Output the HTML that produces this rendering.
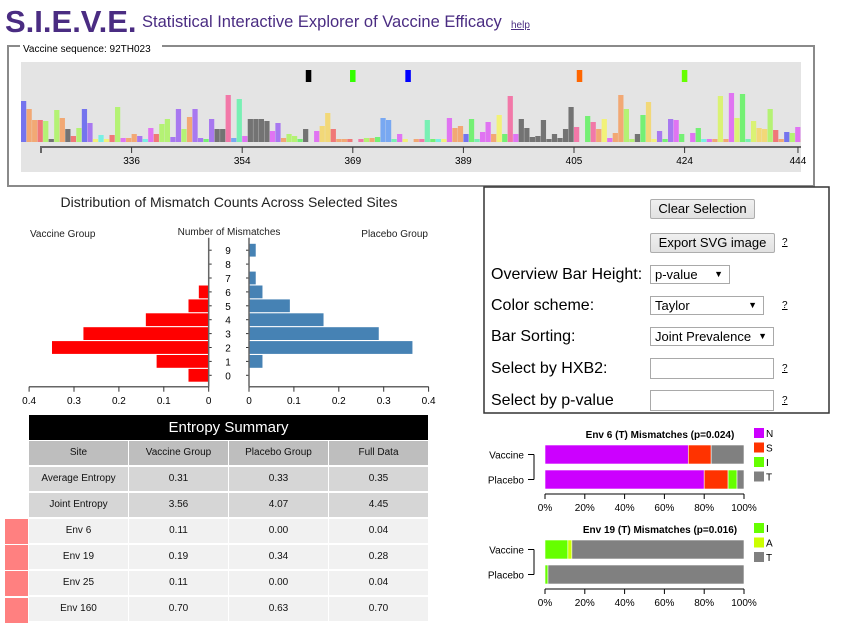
<!DOCTYPE html>
<html><head><meta charset="utf-8">
<style>
body{margin:0;width:860px;height:610px;overflow:hidden;background:#fff;font-family:"Liberation Sans",Arial,sans-serif;position:relative}
.abs{position:absolute}
.lbl{position:absolute;left:491px;font-size:16px;color:#000}
.btn{position:absolute;left:650px;height:20px;border:1px solid #adadad;background:linear-gradient(#f0f0f0,#e1e1e1);font-size:13px;line-height:18px;text-align:center;box-sizing:border-box;border-radius:2px}
.sel{position:absolute;left:650px;height:19px;border:1px solid #a9a9a9;background:#fff;font-size:13px;line-height:17px;padding-left:4px;box-sizing:border-box}
.sel span{position:absolute;right:6px;font-size:9px}
.inp{position:absolute;left:650px;width:124px;height:21px;border:1px solid #a9a9a9;background:#fff;box-sizing:border-box}
.q{position:absolute;left:782px;font-size:10px;text-decoration:underline}
.c{position:absolute;width:99px;height:24px;line-height:24px;font-size:10px;text-align:center;color:#111}
</style></head><body>
<div class="abs" style="left:5px;top:4px;font-size:31px;font-weight:bold;color:#4a2c82">S.I.E.V.E.</div>
<div class="abs" style="left:142px;top:13px;font-size:16.5px;color:#4a2c82">Statistical Interactive Explorer of Vaccine Efficacy</div>
<div class="abs" style="left:511px;top:20px;font-size:10px;color:#4a2c82;text-decoration:underline">help</div>

<svg class="abs" style="left:0;top:0" width="860" height="610">
<rect x="8" y="46" width="806" height="140" fill="none" stroke="#8a8a8a" stroke-width="2"/>
<rect x="20" y="44" width="142" height="8" fill="#fff"/>
<text x="23" y="52" font-size="10" fill="#000">Vaccine sequence: 92TH023</text>
<rect x="21" y="62" width="780" height="110" fill="#e4e4e4"/>
<g id="ov"></g>
<rect x="484" y="187" width="345" height="226" fill="none" stroke="#333" stroke-width="1.5"/>
<g id="hist"></g>
<g id="stk"></g>
</svg>

<div class="btn" style="top:199px;width:105px">Clear Selection</div>
<div class="btn" style="top:233px;width:125px">Export SVG image</div>
<div class="q" style="top:237px">?</div>
<div class="lbl" style="top:266px">Overview Bar Height:</div>
<div class="sel" style="top:265px;width:80px">p-value<span>▼</span></div>
<div class="lbl" style="top:297px">Color scheme:</div>
<div class="sel" style="top:296px;width:114px">Taylor<span>▼</span></div>
<div class="q" style="top:300px">?</div>
<div class="lbl" style="top:328px">Bar Sorting:</div>
<div class="sel" style="top:327px;width:124px">Joint Prevalence<span>▼</span></div>
<div class="lbl" style="top:360px">Select by HXB2:</div>
<div class="inp" style="top:358px"></div>
<div class="q" style="top:363px">?</div>
<div class="lbl" style="top:392px">Select by p-value</div>
<div class="inp" style="top:390px"></div>
<div class="q" style="top:395px">?</div>

<div>
<div class="abs" style="left:29px;top:415px;width:399px;height:25px;background:#000;color:#fff;font-size:15px;line-height:25px;text-align:center">Entropy Summary</div>
<div id="tbl"></div>
</div>
<div class="abs" style="left:5px;top:519px;width:23px;height:25px;background:#ff8080"></div>
<div class="abs" style="left:5px;top:545px;width:23px;height:25px;background:#ff8080"></div>
<div class="abs" style="left:5px;top:571px;width:23px;height:25px;background:#ff8080"></div>
<div class="abs" style="left:5px;top:598px;width:23px;height:25px;background:#ff8080"></div>

<script>
// ---------- table ----------
const tblRows=[["Site","Vaccine Group","Placebo Group","Full Data"],["Average Entropy","0.31","0.33","0.35"],["Joint Entropy","3.56","4.07","4.45"],["Env 6","0.11","0.00","0.04"],["Env 19","0.19","0.34","0.28"],["Env 25","0.11","0.00","0.04"],["Env 160","0.70","0.63","0.70"]];
const tblBg=["#bebebe","#d6d6d6","#d6d6d6","#f1f1f1","#f1f1f1","#f1f1f1","#f1f1f1"];
(function(){
  const t=document.getElementById('tbl');
  tblRows.forEach((row,r)=>{
    row.forEach((v,c)=>{
      const d=document.createElement('div');
      d.className='c';
      d.style.left=(29+c*100)+'px';
      d.style.top=(441+r*26)+'px';
      d.style.background=tblBg[r];
      d.textContent=v;
      
      
      t.appendChild(d);
    });
  });
})();

// ---------- overview data ----------
const ovHeights = [41,33,22,22,21,3,32,24,13,6,14,33,19,3,7,3,7,35,4,4,8,6,3,14,8,18,23,5,33,13,25,33,4,3,23,13,13,47,4,43,6,23,23,23,21,11,19,4,8,6,3,13,0,11,16,29,13,3,3,3,0,3,4,4,5,24,22,3,8,3,0,3,3,22,3,3,3,24,14,16,8,23,3,10,20,8,27,8,46,8,23,14,5,6,22,3,8,4,13,35,15,0,26,20,13,23,4,9,47,33,3,8,27,40,3,11,3,23,22,8,0,9,14,3,3,3,46,3,49,24,48,3,21,14,13,33,12,3,10,9,15,3];
const ovCodes = ["b","o","o","r","g","k","g","o","k","r","g","b","u","y","c","y","r","g","m","o","o","u","c","m","r","g","g","u","u","g","o","u","u","G","u","k","k","p","B","t","m","k","k","k","k","m","u","o","g","g","G","k","0","m","Y","Y","r","o","o","r","0","p","g","o","G","B","B","t","m","y","0","o","p","t","G","c","y","m","o","o","b","G","t","m","m","o","y","G","p","m","k","k","k","k","k","k","k","k","k","k","p","0","G","p","o","y","m","o","o","g","g","k","G","Y","y","u","G","u","m","G","0","m","G","c","m","o","l","o","m","l","G","t","l","Y","Y","g","r","o","b","g","m","y"];
const ovTickLabels = ["336","354","369","389","405","424","444"];
const ovTickIndex = [20,40,60,80,100,120,140.5];
const ovMarkerIndex = [51.5,59.5,69.5,100.5,119.5];
const ovMarkerColors = ["#000","#33ff00","#0000ff","#ff6600","#66ff00"];
const palette={b:"#7474ee",o:"#f2a874",r:"#f07878",g:"#b4f274",G:"#74f074",k:"#737373",c:"#78f0e4",y:"#f2f278",m:"#e074f2",u:"#a878f0",p:"#f278a8",B:"#78a8f2",t:"#78f0b4",Y:"#f2d878",l:"#daf274"};

// ---------- histogram data ----------
const mmCounts=[0,1,2,3,4,5,6,7,8,9];
const vaccineProp=[0.045,0.116,0.349,0.279,0.14,0.045,0.022,0,0,0];
const placeboProp=[0,0.030,0.364,0.289,0.166,0.091,0.030,0.015,0,0.015];
const propTicks=[0,0.1,0.2,0.3,0.4];

// ---------- stacked charts data ----------
const env6Letters=["N","S","I","T"];
const env6Vaccine=[72,11.5,0,16.5];
const env6Placebo=[80,12,4.5,3.5];
const env19Letters=["I","A","T"];
const env19Vaccine=[11.5,2,86.5];
const env19Placebo=[1.5,0,98.5];
const pctTicks=[0,20,40,60,80,100];
const letterColor={N:"#cc00ff",S:"#ff3300",I:"#66ff00",T:"#808080",A:"#ccff00"};

const NS="http://www.w3.org/2000/svg";
function mk(parent,tag,attrs,txt){const e=document.createElementNS(NS,tag);for(const k in attrs)e.setAttribute(k,attrs[k]);if(txt!==undefined)e.textContent=txt;parent.appendChild(e);return e;}

// overview
(function(){
  const g=document.getElementById('ov');
  const x0=21,bw=5.53,base=142,sc=1.0;
  const xi=i=>x0+i*bw;
  ovHeights.forEach((h,i)=>{
    const c=ovCodes[i];
    if(!h||c==="0")return;
    const x=xi(i); if(x>=801)return;
    const r=mk(g,'rect',{x:x,y:base-h*sc,width:Math.min(bw-0.3,801-x),height:h*sc,fill:palette[c]||"#999"});
    
    
  });
  const ax=mk(g,'line',{x1:40,y1:147,x2:801,y2:147,stroke:'#666','stroke-width':2});
  
  
  mk(g,'line',{x1:41,y1:146,x2:41,y2:153,stroke:'#666','stroke-width':2});
  ovTickLabels.forEach((t,i)=>{
    const x=xi(ovTickIndex[i]);
    mk(g,'line',{x1:x,y1:147,x2:x,y2:153,stroke:'#333','stroke-width':1});
    const tx=mk(g,'text',{x:x,y:164,'font-size':10,'text-anchor':'middle',fill:'#000'},t);
    
    
  });
  ovMarkerIndex.forEach((m,i)=>{
    const r=mk(g,'rect',{x:xi(m),y:70,width:5.5,height:12,fill:ovMarkerColors[i]});
    
    
  });
})();

// histogram
(function(){
  const g=document.getElementById('hist');
  const lz=208.7,rz=249,pxu=449,yb=386.7;
  const xl=v=>lz-v*pxu, xr=v=>rz+v*pxu;
  const yc=c=>375.3-c*13.9;
  let t=mk(g,'text',{x:229,y:207,'font-size':14,'text-anchor':'middle',fill:'#222'},'Distribution of Mismatch Counts Across Selected Sites');
  
  
  t=mk(g,'text',{x:30,y:237,'font-size':10,fill:'#222'},'Vaccine Group');
  
  
  t=mk(g,'text',{x:229,y:235,'font-size':10,'text-anchor':'middle',fill:'#222'},'Number of Mismatches');
  
  
  t=mk(g,'text',{x:428,y:237,'font-size':10,'text-anchor':'end',fill:'#222'},'Placebo Group');
  
  
  mmCounts.forEach((c,i)=>{
    const y=yc(c);
    if(vaccineProp[i]>0){const r=mk(g,'rect',{x:xl(vaccineProp[i]),y:y-6.4,width:vaccineProp[i]*pxu,height:12.8,fill:'#ff0000'});
      
      }
    if(placeboProp[i]>0){const r=mk(g,'rect',{x:rz,y:y-6.4,width:placeboProp[i]*pxu,height:12.8,fill:'#4682b4'});
      
      }
    mk(g,'line',{x1:lz,y1:y,x2:lz+3,y2:y,stroke:'#333'});
    mk(g,'line',{x1:rz-3,y1:y,x2:rz,y2:y,stroke:'#333'});
    const tx=mk(g,'text',{x:228,y:y+4,'font-size':10,'text-anchor':'middle',fill:'#000'},String(c));
    
    
  });
  mk(g,'line',{x1:lz,y1:237.7,x2:lz,y2:yb,stroke:'#666','stroke-width':1.5});
  mk(g,'line',{x1:rz,y1:237.7,x2:rz,y2:yb,stroke:'#666','stroke-width':1.5});
  mk(g,'line',{x1:xl(0.4),y1:yb,x2:lz,y2:yb,stroke:'#666','stroke-width':1.5});
  mk(g,'line',{x1:rz,y1:yb,x2:xr(0.4),y2:yb,stroke:'#666','stroke-width':1.5});
  propTicks.forEach(v=>{
    [xl(v),xr(v)].forEach(x=>{
      mk(g,'line',{x1:x,y1:yb,x2:x,y2:yb+5,stroke:'#333'});
      const tx=mk(g,'text',{x:x,y:404,'font-size':10,'text-anchor':'middle',fill:'#000'},String(v));
      
      
    });
  });
})();

// stacked bars
function stacked(top,title,letters,vac,pla){
  const g=document.getElementById('stk');
  const x0=545,w=199,xs=p=>x0+p/100*w;
  const t=mk(g,'text',{x:660,y:top+18,'font-size':10,'font-weight':'bold','text-anchor':'middle',fill:'#000'},title);
  
  
  [[vac,top+25],[pla,top+50]].forEach(([vals,y])=>{
    let acc=0;
    vals.forEach((v,i)=>{
      if(v>0){const r=mk(g,'rect',{x:xs(acc),y:y,width:v/100*w,height:19,fill:letterColor[letters[i]],stroke:'#fff','stroke-width':0.6});
        
        }
      acc+=v;
    });
  });
  ["Vaccine","Placebo"].forEach((n,i)=>{
    const y=top+34.5+i*25;
    const tx=mk(g,'text',{x:524,y:y+4,'font-size':10,'text-anchor':'end',fill:'#000'},n);
    
    
    mk(g,'line',{x1:528,y1:y,x2:534,y2:y,stroke:'#000'});
  });
  mk(g,'line',{x1:534,y1:top+34.5,x2:534,y2:top+59.5,stroke:'#000'});
  const ay=top+74;
  mk(g,'line',{x1:x0,y1:ay,x2:x0+w,y2:ay,stroke:'#000'});
  pctTicks.forEach(p=>{
    mk(g,'line',{x1:xs(p),y1:ay,x2:xs(p),y2:ay+5,stroke:'#000'});
    const tx=mk(g,'text',{x:xs(p),y:ay+17,'font-size':10,'text-anchor':'middle',fill:'#000'},p+'%');
    
    
  });
  letters.forEach((l,i)=>{
    const y=top+8+i*14.5;
    const r=mk(g,'rect',{x:754,y:y,width:10,height:10,fill:letterColor[l]});
    
    
    const tx=mk(g,'text',{x:766,y:y+9,'font-size':10,fill:'#000'},l);
    
    
  });
}
stacked(420,"Env 6 (T) Mismatches (p=0.024)",env6Letters,env6Vaccine,env6Placebo);
stacked(515,"Env 19 (T) Mismatches (p=0.016)",env19Letters,env19Vaccine,env19Placebo);
</script>
</body></html>
